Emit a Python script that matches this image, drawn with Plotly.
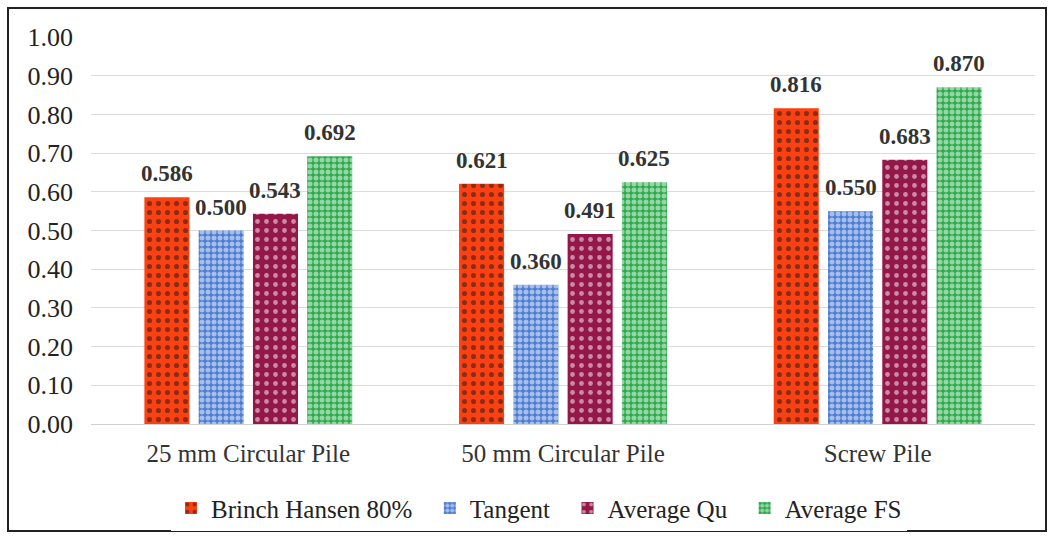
import plotly.graph_objects as go

categories = ["25 mm Circular Pile", "50 mm Circular Pile", "Screw Pile"]
series_names = ["Brinch Hansen 80%", "Tangent", "Average Qu", "Average FS"]
brinch = [0.586, 0.621, 0.816]
tangent = [0.500, 0.360, 0.550]
avg_qu = [0.543, 0.491, 0.683]
avg_fs = [0.692, 0.625, 0.870]
y_ticks = [0.0, 0.1, 0.2, 0.3, 0.4, 0.5, 0.6, 0.7, 0.8, 0.9, 1.0]

SERIF = "Liberation Serif, Times New Roman, serif"
PAD = "\u00a0\u00a0"  # extra breathing room between legend entries

styles = [
    dict(bg="#FB4012", fg="#1a1a1a", shape=".", size=9, sol=0.25),
    dict(bg="#4C7DD2", fg="#FFFFFF", shape=".", size=6, sol=0.55),
    dict(bg="#94174A", fg="#FFFFFF", shape=".", size=9, sol=0.22),
    dict(bg="#2DAA4C", fg="#FFFFFF", shape=".", size=6, sol=0.55),
]

BARGAP = 0.31
all_series = [brinch, tangent, avg_qu, avg_fs]
n_series = len(all_series)
slot = (1 - BARGAP) / n_series

fig = go.Figure()
for i, (name, vals, st) in enumerate(zip(series_names, all_series, styles)):
    fig.add_trace(go.Bar(
        name=name + (PAD if i < n_series - 1 else ""), x=categories, y=vals,
        marker=dict(
            color=st["bg"], line=dict(width=0),
            pattern=dict(shape=st["shape"], fgcolor=st["fg"], bgcolor=st["bg"],
                         size=st["size"], solidity=st["sol"], fillmode="overlay"),
        ),
    ))

# value labels above each bar, placed at the bar's slot within its group
for si, vals in enumerate(all_series):
    off = (si - (n_series - 1) / 2) * slot
    for ci, v in enumerate(vals):
        fig.add_annotation(
            x=ci + off, y=v, xref="x", yref="y",
            text=f"<b>{v:.3f}</b>", showarrow=False,
            yanchor="bottom", yshift=9,
            font=dict(family=SERIF, size=23, color="#333333"),
        )

L, R, T, B = 91, 18, 37, 115
W, H = 1053, 539
pw, ph = W - L - R, H - T - B

fig.update_layout(
    width=W, height=H,
    margin=dict(l=L, r=R, t=T, b=B, autoexpand=False),
    paper_bgcolor="white", plot_bgcolor="white",
    barmode="group", bargap=BARGAP, bargroupgap=0.17,
    font=dict(family=SERIF, size=25, color="#222222"),
    xaxis=dict(showgrid=False, showline=False, ticks="",
               tickfont=dict(family=SERIF, size=25, color="#333333"),
               ticklabelstandoff=12),
    yaxis=dict(range=[0, 1.0], tickvals=y_ticks, tickformat=".2f",
               showgrid=True, gridcolor="#dcdcdc", gridwidth=1,
               zeroline=True, zerolinecolor="#d0d0d0", zerolinewidth=1,
               showline=False, ticks="", ticklabelstandoff=17,
               tickfont=dict(family=SERIF, size=26, color="#222222")),
    legend=dict(orientation="h", x=(171 - L) / pw, xanchor="left",
                y=-0.218, yanchor="middle",
                font=dict(family=SERIF, size=25, color="#222222"),
                itemwidth=30, traceorder="normal"),
    showlegend=True,
)

# outer frame around the whole chart
fig.add_shape(type="rect", xref="paper", yref="paper",
              x0=(8 - L) / pw, x1=(1046 - L) / pw,
              y0=(H - B - 531) / ph, y1=(H - B - 8) / ph,
              line=dict(color="#222222", width=2), fillcolor="rgba(0,0,0,0)",
              layer="above")

fig.write_html("out.html")
